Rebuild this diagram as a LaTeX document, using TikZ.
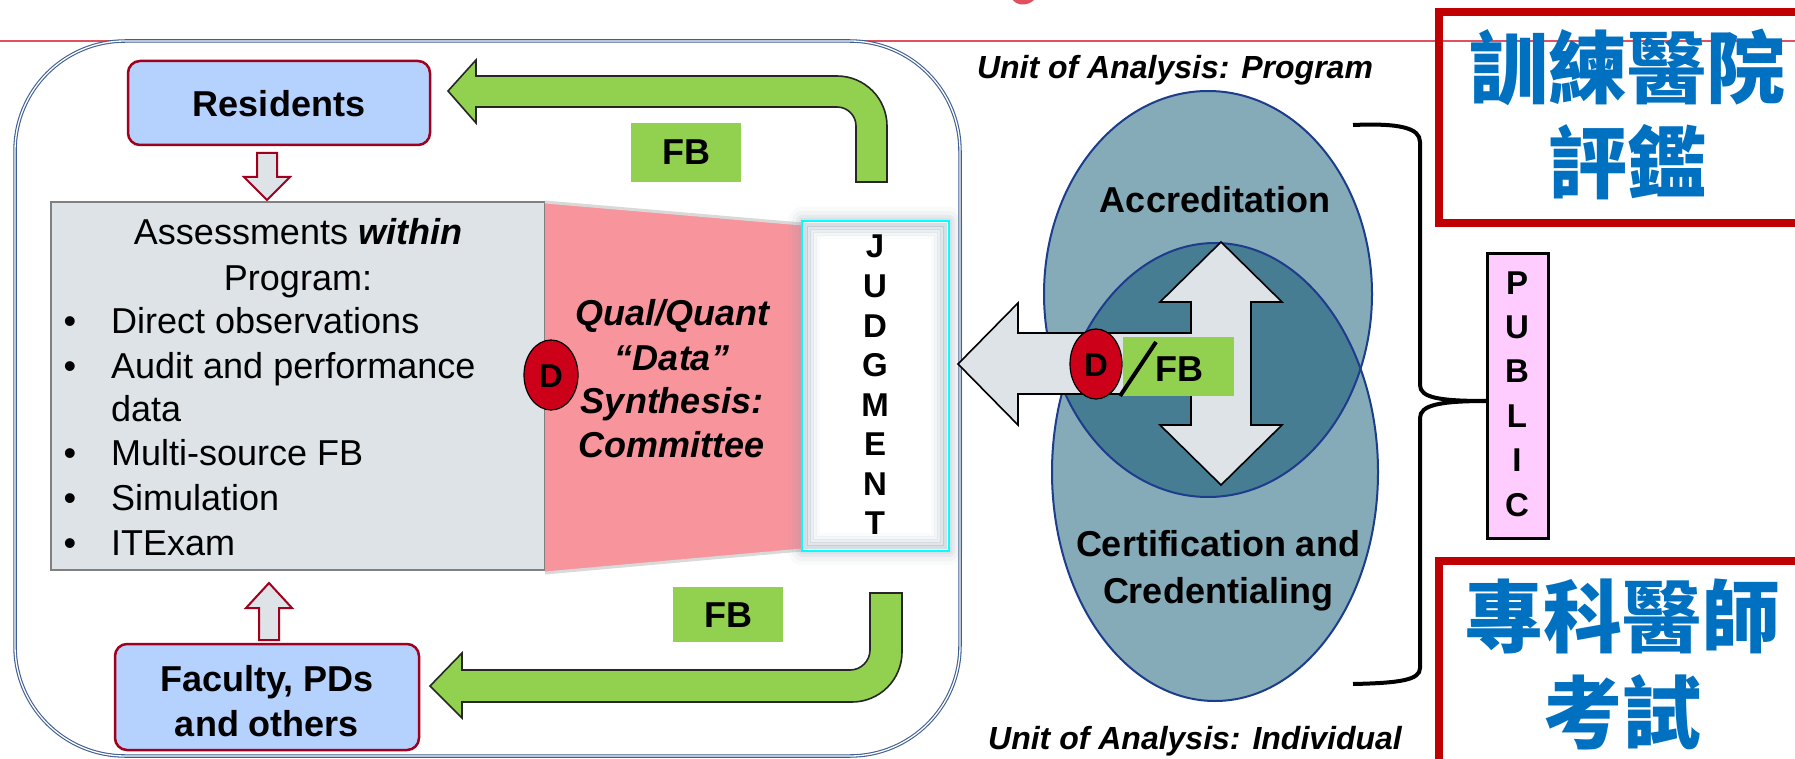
\documentclass[tikz,border=0pt]{standalone}
\usepackage{fontspec}
\setmainfont{Liberation Sans}
\newfontfamily\cjkfont{Noto Sans CJK TC}
\usetikzlibrary{calc}
\definecolor{frameblue}{HTML}{3F5E92}
\definecolor{titlered}{HTML}{E0505E}
\definecolor{boxblue}{HTML}{B5D2FF}
\definecolor{boxred}{HTML}{A0001E}
\definecolor{paleg}{HTML}{DDE3E6}
\definecolor{fbgreen}{HTML}{92D050}
\definecolor{pinkfill}{HTML}{F8949C}
\definecolor{dred}{HTML}{CC0019}
\definecolor{elllight}{HTML}{85AAB8}
\definecolor{elldark}{HTML}{467D92}
\definecolor{ellline}{HTML}{1C3C8C}
\definecolor{pubpink}{HTML}{FFCCFF}
\definecolor{cjkblue}{HTML}{0070C0}
\definecolor{cjkred}{HTML}{C00000}
\definecolor{glowcol}{HTML}{8CA0B0}
\definecolor{judgecyan}{HTML}{00FFFF}
\begin{document}
\begin{tikzpicture}[x=1pt,y=-1pt,
  boldlbl/.style={font=\fontsize{36}{40}\selectfont\bfseries, inner sep=0pt, anchor=base},
  bolditlbl/.style={font=\fontsize{36}{40}\selectfont\bfseries\itshape, inner sep=0pt, anchor=base},
  unitlbl/.style={font=\fontsize{32}{36}\selectfont\bfseries\itshape, inner sep=0pt, anchor=base},
  reglbl/.style={font=\fontsize{36}{40}\selectfont, inner sep=0pt, anchor=base west},
  letterlbl/.style={font=\fontsize{33}{36}\selectfont\bfseries, inner sep=0pt, anchor=base},
  cjklbl/.style={font=\fontsize{79}{85}\selectfont\cjkfont\bfseries, text=cjkblue, inner sep=0pt, anchor=base},
  bluebox/.style={draw=boxred, line width=2.5pt, fill=boxblue, rounded corners=12pt},
  smallarrow/.style={draw=boxred, line width=2pt, fill=paleg, line join=miter},
  greenarrow/.style={draw=black!85, line width=1.6pt, fill=fbgreen},
  grayarrow/.style={draw=black, line width=1.6pt, fill=paleg},
  dmark/.style={draw=black, line width=1.2pt, fill=dred},
  fbbox/.style={fill=fbgreen},
  cjkbox/.style={draw=cjkred, line width=8pt}
]
\useasboundingbox (0,0) rectangle (1795,759);
\clip (0,0) rectangle (1795,759);
\fill[white] (0,0) rectangle (1795,759);

% title remnant and rule
\fill[titlered] (1013,0) .. controls (1017,6) and (1028,6) .. (1034,0) -- cycle;
\draw[titlered, line width=1.5pt] (0,41) -- (1795,41);

% outer frame
\draw[frameblue, line width=1.1pt, double=white, double distance=1.3pt, rounded corners=110pt] (15,41) rectangle (960,756);

% Residents
\draw[bluebox] (128,61) rectangle (430,145);
\node[boldlbl] (res) at (279,117) {Residents};

% Faculty
\draw[bluebox] (115,644) rectangle (419,750);
\node[boldlbl] (fac1) at (267,691) {Faculty, PDs};
\node[boldlbl] (fac2) at (267,736) {and others};

% small block arrows
\draw[smallarrow] (257,153) -- (277,153) -- (277,177) -- (290,177) -- (267,200) -- (244,177) -- (257,177) -- cycle;
\draw[smallarrow] (259,640) -- (279,640) -- (279,608) -- (292,608) -- (269,583) -- (246,608) -- (259,608) -- cycle;

% Assessments box
\draw[fill=paleg, draw=black!50, line width=2.5pt] (51,202) rectangle (545,570);
\node[reglbl, anchor=base] (as1) at (298,245) {Assessments \textbf{\textit{within}}};
\node[reglbl, anchor=base] (as2) at (298,290) {Program:};
\foreach \y/\t [count=\i] in {333/Direct observations, 378/Audit and performance, 465/Multi-source FB, 510/Simulation, 555/ITExam}{
  \node[reglbl, anchor=base] (bul\i) at (70,\y) {•};
  \node[reglbl] (item\i) at (111,\y) {\t};
}
\node[reglbl] (itemdata) at (111,421) {data};

% pink trapezoid
\fill[pinkfill] (545,202) -- (802,224) -- (802,550) -- (545,573) -- cycle;
\draw[black!15, line width=3pt] (545,202) -- (802,224);
\draw[black!15, line width=3pt] (545,573) -- (802,550);
\node[bolditlbl] (q1) at (672,325) {Qual/Quant};
\node[bolditlbl] (q2) at (672,370) {“Data”};
\node[bolditlbl] (q3) at (672,413) {Synthesis:};
\node[bolditlbl] (q4) at (672,457) {Committee};

% D marker left
\draw[dmark] (551,375) ellipse [x radius=27pt, y radius=35pt];
\node[letterlbl] (dleft) at (551,387) {D};

% JUDGMENT box with glow
\foreach \d/\o in {14/0.05,10/0.07,6/0.10,3/0.13}{
  \fill[glowcol, opacity=\o, rounded corners=\d pt] ({802-\d},{221-\d}) rectangle ({949+\d},{551+\d});
}
\fill[white] (802,221) rectangle (949,551);
\foreach \d/\o in {4/0.35,7/0.25,10/0.16,13/0.09,16/0.04}{
  \draw[glowcol, opacity=\o, line width=3.2pt] ({802+\d},{221+\d}) rectangle ({949-\d},{551-\d});
}
\draw[judgecyan, line width=2.5pt] (802,221) rectangle (949,551);
\foreach \l [count=\i from 0] in {J,U,D,G,M,E,N,T}{
  \node[letterlbl] (jl\i) at (875,{258+39.5*\i}) {\l};
}

% green feedback arrows
\draw[greenarrow] (448,91) -- (476,60) -- (476,76) -- (837,76) .. controls (864.6,76) and (887,98.4) .. (887,126) -- (887,182) -- (856,182) -- (856,126) .. controls (856,115.5) and (847.5,107) .. (837,107) -- (476,107) -- (476,123) -- cycle;
\draw[greenarrow] (430,686) -- (462,653) -- (462,670) -- (850,670) .. controls (861,670) and (870,661) .. (870,650) -- (870,593) -- (902,593) -- (902,652) .. controls (902,679.6) and (879.6,702) .. (852,702) -- (462,702) -- (462,718) -- cycle;
\fill[fbbox] (631,123) rectangle (741,182);
\node[boldlbl] (fbtop) at (686,165) {FB};
\fill[fbbox] (673,587) rectangle (783,642);
\node[boldlbl] (fbbot) at (728,627) {FB};

% ellipses
\fill[elllight] (1208,294) ellipse [x radius=164pt, y radius=203pt];
\fill[elllight] (1215,472) ellipse [x radius=163pt, y radius=229pt];
\begin{scope}
  \clip (1208,294) ellipse [x radius=164pt, y radius=203pt];
  \fill[elldark] (1215,472) ellipse [x radius=163pt, y radius=229pt];
\end{scope}
\draw[ellline, line width=2pt] (1208,294) ellipse [x radius=164pt, y radius=203pt];
\draw[ellline, line width=2pt] (1215,472) ellipse [x radius=163pt, y radius=229pt];
\node[boldlbl] (acc) at (1215,213) {Accreditation};
\node[boldlbl] (cert1) at (1218,556) {Certification and};
\node[boldlbl] (cert2) at (1218,603) {Credentialing};

% gray arrows (double vertical + left)
\draw[grayarrow, line join=miter] (1221,242) -- (1282,302) -- (1251,302) -- (1251,425) -- (1282,425) -- (1221,485) -- (1160,425) -- (1191,425) -- (1191,394) -- (1018,394) -- (1018,425) -- (958,364) -- (1018,303) -- (1018,333) -- (1191,333) -- (1191,302) -- (1160,302) -- cycle;

% D / FB in centre
\fill[fbbox] (1123,337) rectangle (1234,396);
\draw[dmark] (1096,364) ellipse [x radius=26pt, y radius=35pt];
\node[letterlbl] (dmid) at (1096,376) {D};
\draw[black, line width=4pt] (1120,396) -- (1156,342);
\node[boldlbl] (fbmid) at (1179,381) {FB};

% unit labels
\node[unitlbl] (unitp) at (1175,79) {Unit of Analysis: Program};
\node[unitlbl] (uniti) at (1195,749) {Unit of Analysis: Individual};

% brace
\draw[black, line width=4pt] (1353,125) .. controls (1400,123) and (1420,128) .. (1420,142) -- (1420,385) .. controls (1420,398) and (1440,401) .. (1487,401) .. controls (1440,401) and (1420,405) .. (1420,418) -- (1420,668) .. controls (1420,680) and (1400,683) .. (1353,684);

% PUBLIC
\draw[fill=pubpink, line width=3pt] (1487,254) rectangle (1548,538);
\foreach \l [count=\i from 0] in {P,U,B,L,I,C}{
  \node[letterlbl] (pl\i) at (1517,{294+44.4*\i}) {\l};
}

% CJK boxes
\draw[cjkbox] (1439,12) rectangle (1810,223);
\node[cjklbl] (cjk1) at (1627,98) {訓練醫院};
\node[cjklbl] (cjk2) at (1627,193) {評鑑};
\draw[cjkbox] (1439,561) rectangle (1810,780);
\node[cjklbl] (cjk3) at (1622,646) {專科醫師};
\node[cjklbl] (cjk4) at (1622,742) {考試};
\end{tikzpicture}
\end{document}
